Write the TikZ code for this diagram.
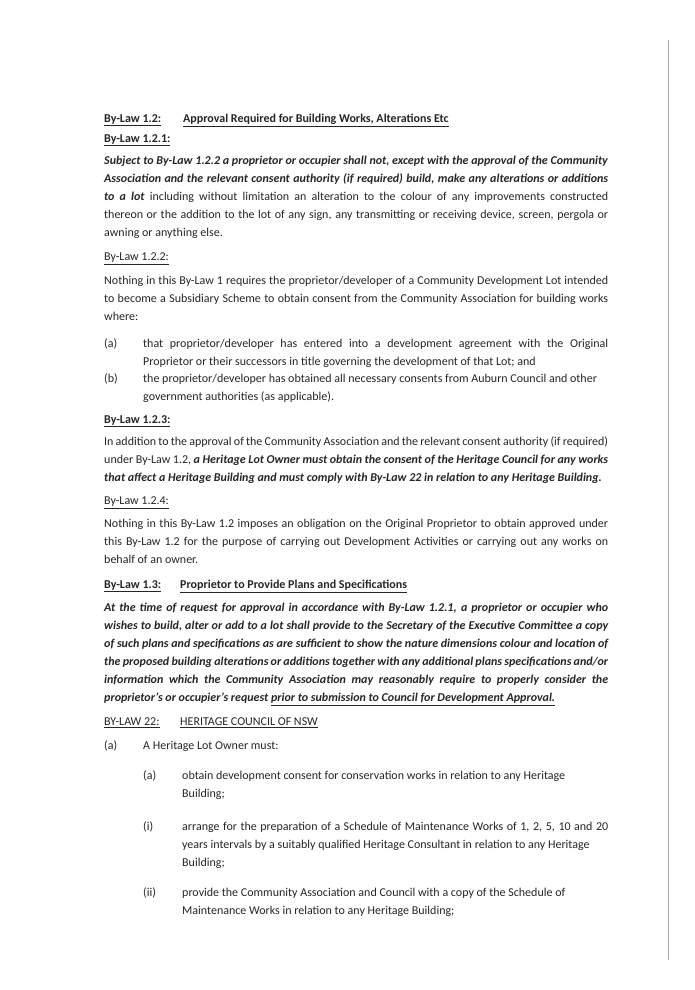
\documentclass[tikz,border=0pt]{standalone}
\usepackage{fontspec}
\setmainfont{Carlito}
\newcommand{\J}[1]{\makebox[504pt][s]{#1}}
\newcommand{\JJ}[1]{\makebox[426pt][s]{#1}}
\newcommand{\JK}[1]{\makebox[465pt][s]{#1}}
\newcommand{\ul}[1]{\underline{#1}}
\begin{document}
\begin{tikzpicture}[x=1pt,y=1pt,
  txt/.style={anchor=north west,inner sep=0pt,align=left,font=\fontsize{12}{18}\selectfont,text=black!85}]
\useasboundingbox[fill=white] (0,0) rectangle (694,-990);
\draw[black!35,line width=0.8pt] (668,-40) -- (668,-960);
\node[txt] (h12) at (104,-114) {\textbf{\ul{By-Law 1.2:}}};
\node[txt] (h12t) at (183,-114) {\textbf{\ul{Approval Required for Building Works, Alterations Etc}}};
\node[txt] (h121) at (104,-134) {\textbf{\ul{By-Law 1.2.1:}}};
\node[txt] (p121) at (104,-156) {\J{\textbf{\itshape Subject to By-Law 1.2.2 a proprietor or occupier shall not, except with the approval of the Community}}\\
\J{\textbf{\itshape Association and the relevant consent authority (if required) build, make any alterations or additions}}\\
\J{\textbf{\itshape to a lot} including without limitation an alteration to the colour of any improvements constructed}\\
\J{thereon or the addition to the lot of any sign, any transmitting or receiving device, screen, pergola or}\\
awning or anything else.};
\node[txt] (h122) at (104,-253) {\ul{By-Law 1.2.2:}};
\node[txt] (p122) at (104,-276) {\J{Nothing in this By-Law 1 requires the proprietor/developer of a Community Development Lot intended}\\
\J{to become a Subsidiary Scheme to obtain consent from the Community Association for building works}\\
where:};
\node[txt] (la) at (104,-339) {(a)};
\node[txt] (ta) at (143,-339) {\JK{that proprietor/developer has entered into a development agreement with the Original}\\
Proprietor or their successors in title governing the development of that Lot; and};
\node[txt] (lb) at (104,-374) {(b)};
\node[txt] (tb) at (143,-374) {the proprietor/developer has obtained all necessary consents from Auburn Council and other\\
government authorities (as applicable).};
\node[txt] (h123) at (104,-415) {\textbf{\ul{By-Law 1.2.3:}}};
\node[txt] (p123) at (104,-437) {\J{In addition to the approval of the Community Association and the relevant consent authority (if required)}\\
\J{under By-Law 1.2, \textbf{\itshape a Heritage Lot Owner must obtain the consent of the Heritage Council for any works}}\\
\textbf{\itshape that affect a Heritage Building and must comply with By-Law 22 in relation to any Heritage Building.}};
\node[txt] (h124) at (104,-497) {\ul{By-Law 1.2.4:}};
\node[txt] (p124) at (104,-519) {\J{Nothing in this By-Law 1.2 imposes an obligation on the Original Proprietor to obtain approved under}\\
\J{this By-Law 1.2 for the purpose of carrying out Development Activities or carrying out any works on}\\
behalf of an owner.};
\node[txt] (h13) at (104,-580) {\textbf{\ul{By-Law 1.3:}}};
\node[txt] (h13t) at (180,-580) {\textbf{\ul{Proprietor to Provide Plans and Specifications}}};
\node[txt,font=\fontsize{12}{18}\selectfont\bfseries\itshape] (p13) at (104,-603) {\J{At the time of request for approval in accordance with By-Law 1.2.1, a proprietor or occupier who}\\
\J{wishes to build, alter or add to a lot shall provide to the Secretary of the Executive Committee a copy}\\
\J{of such plans and specifications as are sufficient to show the nature dimensions colour and location of}\\
\J{the proposed building alterations or additions together with any additional plans specifications and/or}\\
\J{information which the Community Association may reasonably require to properly consider the}\\
proprietor’s or occupier’s request \ul{prior to submission to Council for Development Approval.}};
\node[txt] (h22) at (104,-718) {\ul{BY-LAW 22:}};
\node[txt] (h22t) at (180,-718) {\ul{HERITAGE COUNCIL OF NSW}};
\node[txt] (l22a) at (104,-741) {(a)};
\node[txt] (t22a) at (143,-741) {A Heritage Lot Owner must:};
\node[txt] (lsa) at (143,-771) {(a)};
\node[txt] (tsa) at (182,-771) {obtain development consent for conservation works in relation to any Heritage\\ Building;};
\node[txt] (li) at (143,-822) {(i)};
\node[txt] (ti) at (182,-822) {\JJ{arrange for the preparation of a Schedule of Maintenance Works of 1, 2, 5, 10 and 20}\\
years intervals by a suitably qualified Heritage Consultant in relation to any Heritage\\ Building;};
\node[txt] (lii) at (143,-888) {(ii)};
\node[txt] (tii) at (182,-888) {provide the Community Association and Council with a copy of the Schedule of\\
Maintenance Works in relation to any Heritage Building;};
\end{tikzpicture}
\end{document}
